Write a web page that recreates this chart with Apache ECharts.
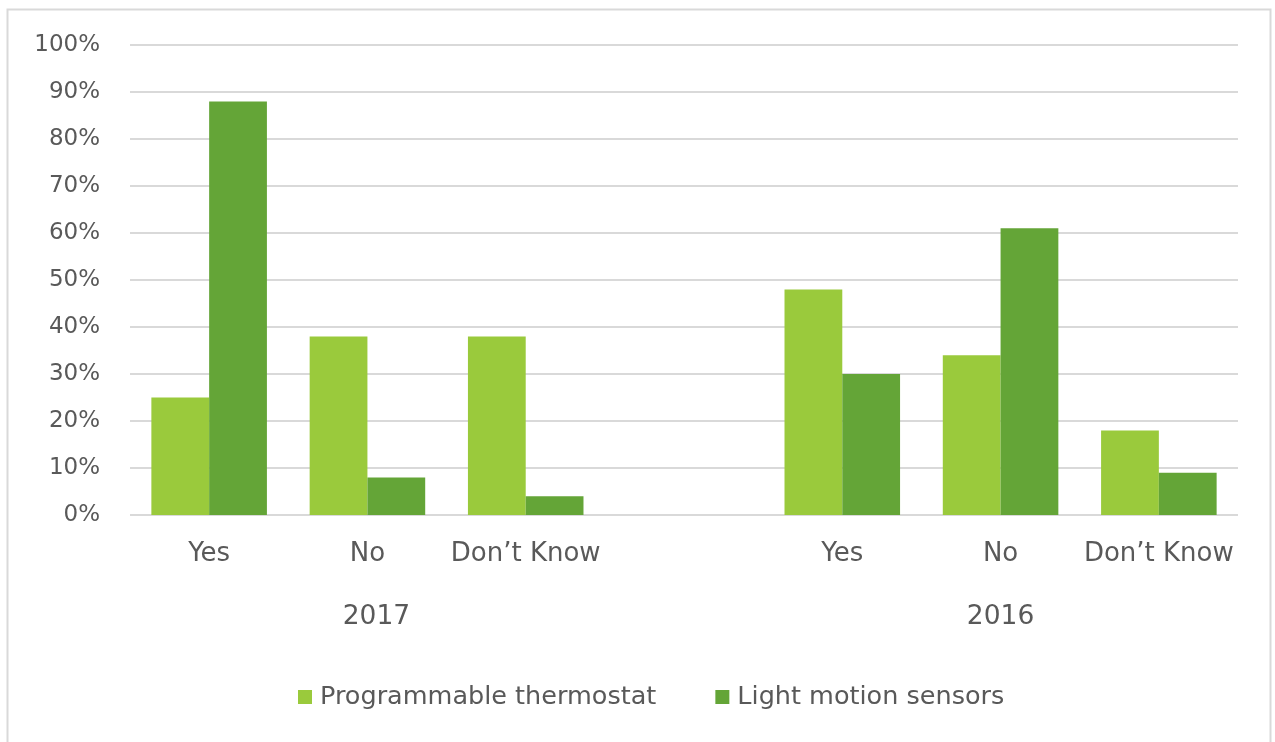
<!DOCTYPE html>
<html>
<head>
<meta charset="utf-8">
<script src="https://cdn.jsdelivr.net/npm/echarts@6/dist/echarts.min.js"></script>
<style>
html,body{margin:0;padding:0;background:#fff;}
#chart{width:1275px;height:742px;}
</style>
</head>
<body>
<div id="chart"></div>
<script>
const categories = ['Yes', 'No', 'Don\u2019t Know', '', 'Yes', 'No', 'Don\u2019t Know'];
const yearLabels = ['', '2017', '', '', '', '2016', ''];
const seriesNames = ['Programmable thermostat', 'Light motion sensors'];
const thermostat = [25, 38, 38, null, 48, 34, 18];
const sensors = [88, 8, 4, null, 30, 61, 9];
const yTicks = [0, 10, 20, 30, 40, 50, 60, 70, 80, 90, 100];

const FONT = '"DejaVu Sans", sans-serif';
const TXT = '#595959';
const yearData = yearLabels.map((v, i) => i === 1
  ? { value: v, textStyle: { padding: [0, 0, 0, 18] } }
  : v);
const chart = echarts.init(document.getElementById('chart'));
chart.setOption({
  animation: false,
  backgroundColor: '#fff',
  textStyle: { fontFamily: FONT },
  graphic: [{
    type: 'rect',
    shape: { x: 7.5, y: 9.5, width: 1263, height: 740 },
    style: { fill: 'none', stroke: '#d9d9d9', lineWidth: 2 },
    silent: true, z: -1
  }],
  grid: { left: 130, right: 37, top: 45, bottom: 227 },
  legend: {
    bottom: 27,
    left: 293,
    itemWidth: 14, itemHeight: 14, itemGap: 59,
    icon: 'rect',
    textStyle: { color: TXT, fontSize: 25.5, fontFamily: FONT, padding: [0, 0, 0, 3] },
    data: seriesNames
  },
  xAxis: [{
    type: 'category',
    data: categories,
    axisLine: { show: false },
    axisTick: { show: false },
    axisLabel: { color: TXT, fontSize: 26, margin: 26, interval: 0, fontFamily: FONT }
  }, {
    type: 'category',
    data: yearData,
    position: 'bottom',
    offset: 62,
    axisLine: { show: false },
    axisTick: { show: false },
    axisLabel: { color: TXT, fontSize: 26.5, margin: 27, interval: 0, fontFamily: FONT }
  }],
  yAxis: {
    type: 'value',
    min: yTicks[0], max: yTicks[yTicks.length - 1], interval: 10,
    axisLine: { show: false },
    axisTick: { show: false },
    axisLabel: { color: TXT, fontSize: 23, margin: 30, formatter: v => v + '%', fontFamily: FONT },
    splitLine: { lineStyle: { color: '#d9d9d9', width: 2 } }
  },
  series: [{
    name: seriesNames[0], type: 'bar', data: thermostat,
    itemStyle: { color: '#9aca3c' },
    barGap: '0%', barCategoryGap: '27%'
  }, {
    name: seriesNames[1], type: 'bar', data: sensors,
    itemStyle: { color: '#64a537' },
    barGap: '0%', barCategoryGap: '27%'
  }]
});
</script>
</body>
</html>
